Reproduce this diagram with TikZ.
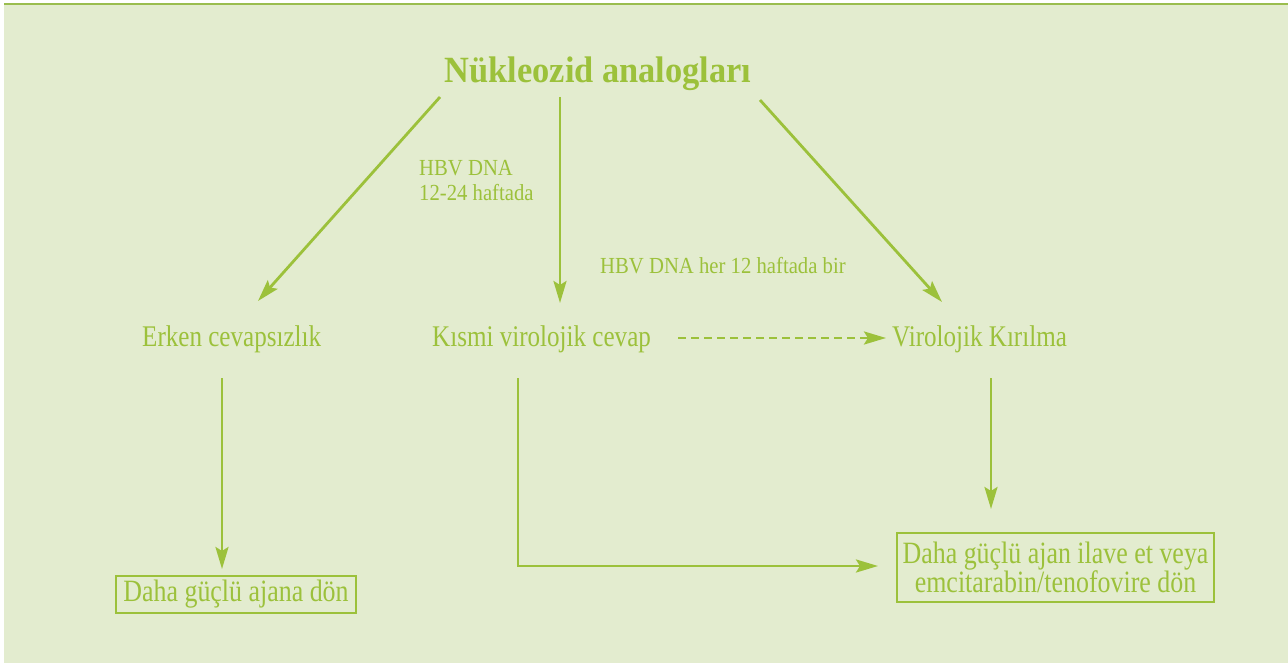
\documentclass[tikz,border=0pt]{standalone}
\usepackage{fontspec}
\setmainfont[FakeStretch=0.836]{Liberation Serif}
\newfontfamily\smallfont[FakeStretch=0.9]{Liberation Serif}
\newfontfamily\titlefont[FakeStretch=0.93]{Liberation Serif}
\usetikzlibrary{arrows.meta}
\definecolor{bg}{HTML}{E3ECCF}
\definecolor{gr}{HTML}{9CC13B}
\definecolor{topline}{HTML}{9ABD4E}
\begin{document}
\begin{tikzpicture}[x=1pt,y=-1pt,
  lbl/.style={inner sep=0pt, anchor=base west, text=gr, font=\fontsize{30}{34}\selectfont},
  small/.style={inner sep=0pt, anchor=base west, text=gr, font=\smallfont\fontsize{23}{25}\selectfont, align=left},
  boxed/.style={draw=gr, line width=1.5pt, text=gr, inner sep=0pt, font=\fontsize{31}{29}\selectfont, align=center},
  arr/.style={draw=gr, line width=2.8pt, -{Stealth[length=22pt,width=13pt,inset=4pt]}},
  dasharr/.style={arr, dash pattern=on 8pt off 5pt}]
\useasboundingbox (0,0) rectangle (1288,663);
\fill[white] (0,0) rectangle (1288,663);
\fill[bg] (4,4) rectangle (1288,663);
\draw[topline, line width=2pt] (4,4) -- (1288,4);

\node[inner sep=0pt, anchor=base, text=gr, font=\titlefont\fontsize{37}{40}\selectfont\bfseries] (title) at (598,83) {Nükleozid analogları};

\node[small] (hbv1) at (419,201) {HBV DNA\\12-24 haftada};
\node[small] (hbv2) at (600,273) {HBV DNA her 12 haftada bir};

\node[lbl] (erken) at (142,346) {Erken cevapsızlık};
\node[lbl] (kismi) at (432,346) {Kısmi virolojik cevap};
\node[lbl] (kirilma) at (892,346) {Virolojik Kırılma};

\node[boxed, minimum width=240pt, minimum height=37pt] (box1) at (236,594.5) {Daha güçlü ajana dön};
\node[boxed, minimum width=317pt, minimum height=69pt] (box2) at (1055.5,567.5) {Daha güçlü ajan ilave et veya\\emcitarabin/tenofovire dön};

\coordinate (t1) at (440,97);
\coordinate (t2) at (560,97);
\coordinate (t3) at (760,100);
\coordinate (e1) at (258,301);
\coordinate (e2) at (560,303);
\coordinate (e3) at (942,302);
\draw[arr] (t1) -- (e1);
\draw[arr] (t2) -- (e2);
\draw[arr] (t3) -- (e3);

\coordinate (d1) at (678,338);
\coordinate (d2) at (886,338);
\draw[dasharr] (d1) -- (d2);

\coordinate (ed) at (222,378);
\coordinate (ee) at (222,569);
\draw[arr] (ed) -- (ee);
\coordinate (kd) at (518,378);
\coordinate (ke) at (878,566);
\draw[arr] (kd) |- (ke);
\coordinate (vd) at (991,378);
\coordinate (ve) at (991,509);
\draw[arr] (vd) -- (ve);
\end{tikzpicture}
\end{document}
